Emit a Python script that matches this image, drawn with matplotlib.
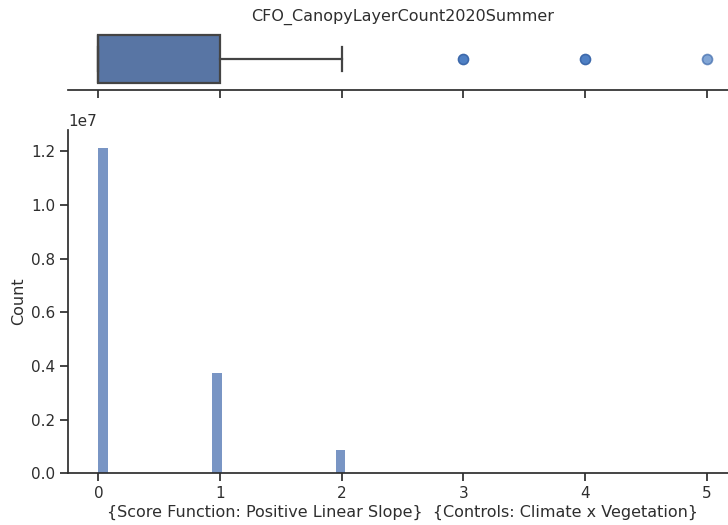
import matplotlib
matplotlib.use("Agg")
import matplotlib.pyplot as plt
import numpy as np

# Canopy layer counts per pixel and how often each occurs
layer_values = [0, 1, 2, 3, 4, 5]
pixel_counts = [1.2135e7, 0.375e7, 0.087e7, 1.5e4, 4.0e3, 5.0e2]

# Box summary of the same distribution
box_q1, box_median, box_q3 = 0, 0, 1
whisker_low, whisker_high = 0, 2
outliers = [3, 4, 5]

title = "CFO_CanopyLayerCount2020Summer"
xlabel = "{Score Function: Positive Linear Slope}  {Controls: Climate x Vegetation}"
ylabel = "Count"
xticks = [0, 1, 2, 3, 4, 5]
yticks = [0.0, 0.2e7, 0.4e7, 0.6e7, 0.8e7, 1.0e7, 1.2e7]

ink = "#2e2e2e"
plt.rcParams.update({
    "font.family": "DejaVu Sans",
    "font.size": 11,
    "text.color": ink,
    "axes.labelcolor": ink,
    "axes.edgecolor": ink,
    "xtick.color": ink,
    "ytick.color": ink,
    "xtick.labelsize": 11,
    "ytick.labelsize": 11,
    "axes.labelsize": 11.5,
    "axes.titlesize": 11.5,
    "axes.linewidth": 1.25,
    "xtick.major.width": 1.25,
    "ytick.major.width": 1.25,
    "xtick.major.size": 5.5,
    "ytick.major.size": 5.5,
})

W, H = 728, 525
fig = plt.figure(figsize=(W / 100, H / 100), dpi=100)

left_px, right_px = 68, 737
ax_box = fig.add_axes([left_px / W, 1 - 89.5 / H, (right_px - left_px) / W, 60.5 / H])
ax_hist = fig.add_axes([left_px / W, 1 - 473.3 / H, (right_px - left_px) / W, (473.3 - 130) / H])

xlim = (-0.25, 5.25)

# Horizontal box plot
stats = [dict(q1=box_q1, med=box_median, q3=box_q3, whislo=whisker_low,
              whishi=whisker_high, fliers=[])]
line_col = "#444444"
ax_box.bxp(stats, positions=[0], widths=0.8, vert=False, patch_artist=True,
           showfliers=False,
           boxprops=dict(facecolor="#5875a4", edgecolor=line_col, linewidth=1.6),
           medianprops=dict(color=line_col, linewidth=1.6),
           whiskerprops=dict(color=line_col, linewidth=1.6),
           capprops=dict(color=line_col, linewidth=1.6),
           capwidths=0.4)
flier_alpha = [1.0, 1.0, 0.7]
for xv, a in zip(outliers, flier_alpha):
    ax_box.plot([xv], [0], marker="o", markersize=7.2, linestyle="none",
                markerfacecolor="#4f80c4", markeredgecolor="#3d69ab",
                markeredgewidth=1.2, alpha=a)
ax_box.set_ylim(-0.5, 0.5)
ax_box.set_xlim(*xlim)
ax_box.set_xticks(xticks)
ax_box.set_xticklabels([])
ax_box.set_yticks([])
for side in ("top", "right", "left"):
    ax_box.spines[side].set_visible(False)
ax_box.set_title(title, pad=6)

# Histogram of layer counts
ax_hist.hist(layer_values, bins=64, range=(0, 5), weights=pixel_counts,
             color="#4c72b0", alpha=0.75, edgecolor="none")
ax_hist.set_xlim(*xlim)
ax_hist.set_ylim(0, 1.2795e7)
ax_hist.set_xticks(xticks)
ax_hist.set_yticks(yticks)
ax_hist.set_xlabel(xlabel, labelpad=3)
ax_hist.set_ylabel(ylabel)
for side in ("top", "right"):
    ax_hist.spines[side].set_visible(False)

fig.savefig("out.png", dpi=100)
